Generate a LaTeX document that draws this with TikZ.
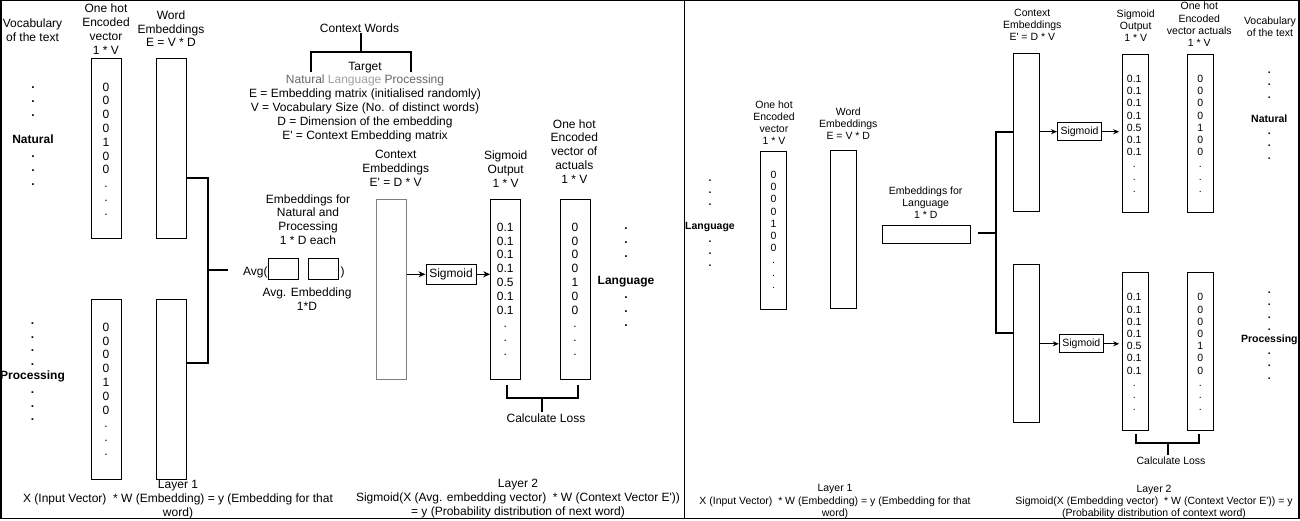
\documentclass[tikz,border=0pt]{standalone}
\usepackage{fontspec}
\newfontfamily\af{Liberation Sans}
\usetikzlibrary{arrows.meta,positioning}
\definecolor{ctxgray}{HTML}{808080}
\definecolor{wordgray}{HTML}{666666}
\definecolor{tgtgray}{HTML}{A0A0A0}
\newcommand\lfnt{\af\fontsize{12}{13.8}\selectfont}
\newcommand\rfnt{\af\fontsize{10.5}{12.2}\selectfont}
\newcommand\lstrut{\rule{0pt}{9pt}}
\newcommand\rstrut{\rule{0pt}{8pt}}

\begin{document}
\begin{tikzpicture}[x=1pt,y=-1pt,
    txt/.style={inner sep=0pt,align=center,anchor=north,font=\lfnt},
    rtxt/.style={inner sep=0pt,align=center,anchor=north,font=\rfnt},
    vbox/.style={draw,line width=1pt,minimum width=30pt,minimum height=180pt,inner sep=0pt},
    rvbox/.style={draw,line width=1pt,minimum width=26pt,minimum height=158pt,inner sep=0pt},
    abox/.style={draw,line width=1pt,minimum width=30pt,minimum height=20pt,inner sep=0pt},
    sbox/.style={draw,line width=1pt,minimum width=50pt,minimum height=20pt,inner sep=0pt,font=\lfnt},
    rsbox/.style={draw,line width=1pt,minimum width=44pt,minimum height=18pt,inner sep=0pt,font=\rfnt},
    brace/.style={line width=2pt},
    flow/.style={-{Stealth[length=7pt,width=6pt]},line width=1pt},
    rflow/.style={-{Stealth[length=6pt,width=5pt]},line width=1pt}]
  \useasboundingbox (0,0) rectangle (1300,521);
  \draw[line width=1.5pt] (0.75,0.75) rectangle (1299,518.5);
  \draw[line width=1pt] (684.5,0.75) -- (684.5,518.5);

  % CBOW
  \node[txt] (vocL) at (32.5,19) {Vocabulary\\of the text};
  \node[txt,font=\lfnt\bfseries] (natL) at (33,79.5) {\lstrut.\\.\\.\\\mbox{}\\Natural\\.\\.\\.};
  \node[txt,font=\lfnt\bfseries] (procL) at (32.5,315) {\lstrut.\\.\\.\\.\\Processing\\.\\.\\.};
  \node[txt] (ohHd) at (106,4) {One hot\\Encoded\\vector\\1 * V};
  \node[txt] (weHd) at (171,10.5) {Word\\Embeddings\\E = V * D};
  \node[vbox] (ohN) at (106,148.7) {};
  \node[vbox] (weN) at (171,148.7) {};
  \node[vbox] (ohP) at (106,389.3) {};
  \node[vbox] (weP) at (171,389.3) {};
  \node[txt] (numN) at (106,82) {\lstrut0\\0\\0\\0\\1\\0\\0\\.\\.\\.};
  \node[txt] (numP) at (106,322) {\lstrut0\\0\\0\\0\\1\\0\\0\\.\\.\\.};

  \coordinate (jN) at (208,177.7);
  \coordinate (jP) at (208,363.3);
  \coordinate (jM) at (228,270);
  \draw[brace] (weN.east |- jN) -- (jN) -- (jP) -- (weP.east |- jP);
  \draw[brace] (jN |- jM) -- (jM);

  \node[txt] (embFor) at (308,194.3) {Embeddings for\\Natural and\\Processing\\1 * D each};
  \node[abox] (av1) at (283.3,269) {};
  \node[abox] (av2) at (323.3,269) {};
  \node[inner sep=0pt,anchor=base east,font=\lfnt] (avgOpen) at (av1.west |- 0,275) {Avg(};
  \node[inner sep=0pt,anchor=base west,font=\lfnt] (avgClose) at ([xshift=1.5pt]av2.east |- 0,275) {)};
  \node[txt] (avgEmb) at (307,287.7) {Avg. Embedding\\1*D};

  \node[inner sep=0pt,anchor=base,font=\lfnt] (ctxWords) at (359.5,32.3) {Context Words};
  \coordinate (cwL) at (311,72.3);
  \coordinate (cwM) at (361,52);
  \coordinate (cwR) at (411,72.3);
  \draw[brace] (cwL) |- (cwM) -| (cwR);
  \draw[brace] (cwM) -- (cwM |- ctxWords.south);
  \node[txt] (target) at (365,61.7) {Target\\{\color{wordgray}Natural} {\color{tgtgray}Language} {\color{wordgray}Processing}\\E = Embedding matrix (initialised randomly)\\V = Vocabulary Size (No. of distinct words)\\D = Dimension of the embedding\\E' = Context Embedding matrix};

  \node[txt] (ceHd) at (395.7,150.3) {Context\\Embeddings\\E' = D * V};
  \node[txt] (soHd) at (505.7,151) {Sigmoid\\Output\\1 * V};
  \node[txt] (acHd) at (574.3,119.3) {One hot\\Encoded\\vector of\\actuals\\1 * V};
  \node[vbox,draw=ctxgray] (ceL) at (391,289.3) {};
  \node[vbox] (soL) at (505.7,289.3) {};
  \node[vbox] (acL) at (575.7,289.3) {};
  \node[sbox] (sgL) at (451,274.3) {Sigmoid};
  \draw[flow] (ceL.east |- sgL.west) -- (sgL.west);
  \draw[flow] (sgL.east) -- (soL.west |- sgL.east);
  \node[txt] (valL) at (505.3,222) {\lstrut0.1\\0.1\\0.1\\0.1\\0.5\\0.1\\0.1\\.\\.\\.};
  \node[txt] (actL) at (575,222) {\lstrut0\\0\\0\\0\\1\\0\\0\\.\\.\\.};
  \node[txt,font=\lfnt\bfseries] (langL) at (626,220.5) {\lstrut.\\.\\.\\\mbox{}\\Language\\.\\.\\.};

  \node[txt] (lossL) at (546,414) {Calculate Loss};
  \coordinate (lsA) at (506.7,385);
  \coordinate (lsM) at (542,398.3);
  \coordinate (lsB) at (578,385);
  \draw[brace] (lsA) |- (lsM) -| (lsB);
  \draw[brace] (lsM) -- ([yshift=2pt]lossL.north -| lsM);

  \node[txt] (lay1L) at (178,480) {Layer 1\\X (Input Vector)\ \ * W (Embedding) = y (Embedding for that\\word)};
  \node[txt] (lay2L) at (518,479.3) {Layer 2\\Sigmoid(X (Avg. embedding vector)\ \ * W (Context Vector E'))\\= y (Probability distribution of next word)};

  % Skip-gram
  \node[rtxt,font=\rfnt\bfseries] (langR) at (710,173) {\rstrut.\\.\\.\\\mbox{}\\Language\\.\\.\\.};
  \node[rtxt] (ohHdR) at (774,100.3) {One hot\\Encoded\\vector\\1 * V};
  \node[rtxt] (weHdR) at (848.3,107.7) {Word\\Embeddings\\E = V * D};
  \node[rvbox] (ohR) at (773.5,230.2) {};
  \node[rvbox] (weR) at (843.7,229.2) {};
  \node[rtxt] (numR) at (773.5,170.3) {\rstrut0\\0\\0\\0\\1\\0\\0\\.\\.\\.};
  \node[rtxt] (embForR) at (925.7,186.3) {Embeddings for\\Language\\1 * D};
  \node[draw,line width=1pt,minimum width=88pt,minimum height=17.6pt,inner sep=0pt] (lgR) at (926.2,234.5) {};

  \node[rtxt] (ceHdR) at (1032.3,9) {Context\\Embeddings\\E' = D * V};
  \node[rtxt] (soHdR) at (1135.7,9.3) {Sigmoid\\Output\\1 * V};
  \node[rtxt] (acHdR) at (1199.3,2) {One hot\\Encoded\\vector actuals\\1 * V};
  \node[rtxt] (vocR) at (1270,16.5) {Vocabulary\\of the text};
  \node[rvbox] (ceT) at (1026.3,132.2) {};
  \node[rvbox] (ceB) at (1026.3,343.3) {};
  \node[rvbox] (soT) at (1135.7,133.4) {};
  \node[rvbox] (acT) at (1200.2,133.4) {};
  \node[rvbox] (soB) at (1135.7,351.2) {};
  \node[rvbox] (acB) at (1200.2,351.2) {};
  \node[rsbox] (sgT) at (1079.5,131.7) {Sigmoid};
  \node[rsbox] (sgB) at (1081.3,343.8) {Sigmoid};

  \coordinate (jR) at (996,233.3);
  \coordinate (jB) at (996,333.3);
  \draw[brace] ([xshift=7pt]lgR.east |- jR) -- (jR);
  \draw[brace] (ceT.west) -| (jB) -- (ceB.west |- jB);
  \draw[rflow] (ceT.east |- sgT.west) -- (sgT.west);
  \draw[rflow] (sgT.east) -- ([xshift=-3pt]soT.west |- sgT.east);
  \draw[rflow] (ceB.east |- sgB.west) -- (sgB.west);
  \draw[rflow] (sgB.east) -- ([xshift=-3pt]soB.west |- sgB.east);

  \node[rtxt] (valT) at (1134.2,74.3) {\rstrut0.1\\0.1\\0.1\\0.1\\0.5\\0.1\\0.1\\.\\.\\.};
  \node[rtxt] (actT) at (1200.3,74.3) {\rstrut0\\0\\0\\0\\1\\0\\0\\.\\.\\.};
  \node[rtxt] (valB) at (1134.2,292.7) {\rstrut0.1\\0.1\\0.1\\0.1\\0.5\\0.1\\0.1\\.\\.\\.};
  \node[rtxt] (actB) at (1200.3,292.7) {\rstrut0\\0\\0\\0\\1\\0\\0\\.\\.\\.};
  \node[rtxt,font=\rfnt\bfseries] (natR) at (1269.3,65.5) {\rstrut.\\.\\.\\\mbox{}\\Natural\\.\\.\\.};
  \node[rtxt,font=\rfnt\bfseries] (procR) at (1269.3,285.5) {\rstrut.\\.\\.\\.\\Processing\\.\\.\\.};

  \node[rtxt] (lossR) at (1171,457) {Calculate Loss};
  \coordinate (lsC) at (1135.7,434);
  \coordinate (lsN) at (1167.6,443.3);
  \coordinate (lsD) at (1199.3,434);
  \draw[brace] (lsC) |- (lsN) -| (lsD);
  \draw[brace] (lsN) -- ([yshift=2pt]lossR.north -| lsN);

  \node[rtxt] (lay1R) at (835,484.5) {Layer 1\\X (Input Vector)\ \ * W (Embedding) = y (Embedding for that\\word)};
  \node[rtxt] (lay2R) at (1154,484.5) {Layer 2\\Sigmoid(X (Embedding vector)\ \ * W (Context Vector E')) = y\\(Probability distribution of context word)};
\end{tikzpicture}
\end{document}
